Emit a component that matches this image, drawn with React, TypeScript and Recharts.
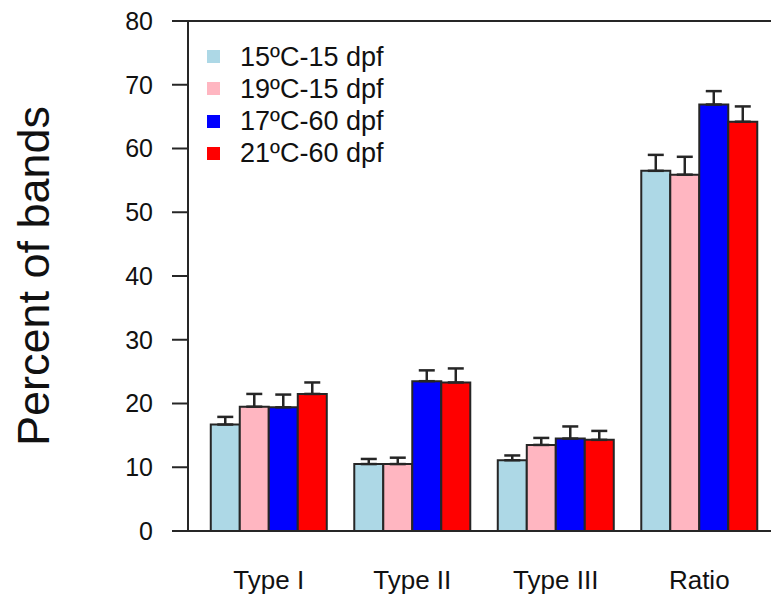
import React from 'react';
import { BarChart, Bar, XAxis, YAxis, ErrorBar, Legend, ReferenceLine, Label } from 'recharts';

const categories = ['Type I', 'Type II', 'Type III', 'Ratio'];
const seriesNames = ['15ºC-15 dpf', '19ºC-15 dpf', '17ºC-60 dpf', '21ºC-60 dpf'];
const seriesColors = ['#ADD8E6', '#FFB6C1', '#0000FF', '#FF0000'];
const s15_15 = [16.7, 10.5, 11.1, 56.5];
const e15_15 = [1.2, 0.8, 0.75, 2.5];
const s19_15 = [19.5, 10.5, 13.5, 55.9];
const e19_15 = [2.0, 1.0, 1.1, 2.8];
const s17_60 = [19.4, 23.5, 14.5, 66.9];
const e17_60 = [2.0, 1.7, 1.9, 2.1];
const s21_60 = [21.5, 23.3, 14.3, 64.2];
const e21_60 = [1.8, 2.2, 1.4, 2.4];
const yTicks = [0, 10, 20, 30, 40, 50, 60, 70, 80];

const values = [s15_15, s19_15, s17_60, s21_60];
const errors = [e15_15, e19_15, e17_60, e21_60];

const data = categories.map((c, i) => {
  const row: any = { category: c };
  values.forEach((v, k) => {
    row['v' + k] = v[i];
    row['e' + k] = [0, errors[k][i]];
  });
  return row;
});

const FONT = '"Liberation Sans", Arial, sans-serif';
const AXIS = '#262626';

const renderLegend = (props: any) => {
  const payload = [...(props.payload || [])].sort(
    (a: any, b: any) => seriesNames.indexOf(a.value) - seriesNames.indexOf(b.value)
  );
  return (
    <div style={{ fontFamily: FONT, fontSize: 27, color: '#111' }}>
      {payload.map((p: any, i: number) => (
        <div key={i} style={{ display: 'flex', alignItems: 'center', height: 32.2 }}>
          <span style={{ display: 'inline-block', width: 13, height: 13, background: p.color, marginRight: 20 }} />
          <span style={{ lineHeight: '32px' }}>{p.value}</span>
        </div>
      ))}
    </div>
  );
};

const renderYLabel = (props: any) => {
  const vb = props.viewBox;
  const cx = vb.x + 33;
  const cy = vb.y + vb.height / 2;
  return (
    <text
      x={cx}
      y={cy}
      transform={`rotate(-90 ${cx} ${cy})`}
      textAnchor="middle"
      dominantBaseline="central"
      fontSize={45}
      fontFamily={FONT}
      fill="#111"
    >
      Percent of bands
    </text>
  );
};

export default function App() {
  return (
    <div style={{ position: 'absolute', left: 0, top: 0, width: 771, height: 602, background: '#fff' }}>
      <BarChart
        width={771}
        height={602}
        data={data}
        margin={{ top: 21, right: 0, bottom: 0, left: 0 }}
        barCategoryGap="9.6%"
        barGap={0}
      >
        <XAxis
          dataKey="category"
          height={71}
          padding={{ left: 9, right: 0 }}
          axisLine={false}
          tickLine={false}
          tickSize={0}
          tickMargin={40}
          tick={{ fontSize: 26, fontFamily: FONT, fill: '#111' }}
          interval={0}
        />
        <YAxis
          width={188}
          domain={[0, 80]}
          ticks={yTicks}
          interval={0}
          tickSize={16}
          tickMargin={19}
          axisLine={{ stroke: AXIS, strokeWidth: 2 }}
          tickLine={{ stroke: AXIS, strokeWidth: 2 }}
          tick={{ fontSize: 25, fontFamily: FONT, fill: '#111' }}
        >
          <Label content={renderYLabel} />
        </YAxis>
        <Legend
          layout="vertical"
          align="center"
          verticalAlign="middle"
          content={renderLegend}
          wrapperStyle={{ position: 'absolute', left: 207, top: 40.6, width: 'auto', height: 'auto' }}
        />
        {values.map((_, k) => (
          <Bar
            key={k}
            dataKey={'v' + k}
            name={seriesNames[k]}
            fill={seriesColors[k]}
            stroke={AXIS}
            strokeWidth={2}
            isAnimationActive={false}
          >
            <ErrorBar dataKey={'e' + k} width={8} stroke={AXIS} strokeWidth={2.5} direction="y" />
          </Bar>
        ))}
        <ReferenceLine y={0} stroke={AXIS} strokeWidth={2} />
        <ReferenceLine y={80} stroke={AXIS} strokeWidth={2} />
      </BarChart>
    </div>
  );
}
